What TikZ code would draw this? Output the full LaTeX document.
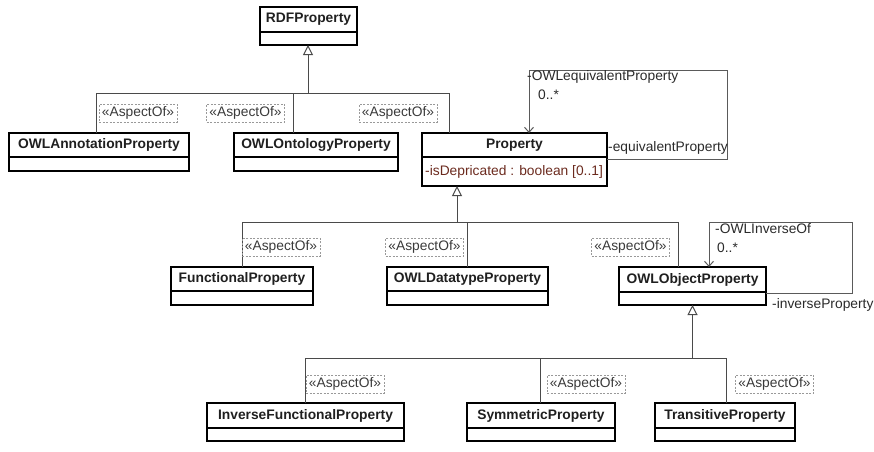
\documentclass[tikz,border=0pt]{standalone}
\usepackage{fontspec}
\setmainfont{Liberation Sans}
\usetikzlibrary{arrows.meta}
\definecolor{linec}{HTML}{4A4A4A}
\definecolor{assocc}{HTML}{5A5A5A}
\definecolor{attrc}{HTML}{6B2A1E}
\definecolor{aspc}{HTML}{3A3A3A}
\definecolor{labc}{HTML}{2A2A2A}
\tikzset{
  namebox/.style={draw=black, line width=1.4pt, inner sep=0pt, outer sep=0pt, anchor=north west,
    font=\fontsize{13.8}{16}\selectfont\bfseries, text=black!88},
  compbox/.style={draw=black, line width=1.4pt, inner sep=0pt, outer sep=0pt, anchor=north west},
  conn/.style={draw=linec, line width=1pt},
  gen/.style={conn, -{Triangle[open, length=10pt, width=10pt, line width=1pt]}},
  assoc/.style={draw=assocc, line width=1pt, -{Straight Barb[length=5pt, width=9pt, line width=1pt]}},
  aspect/.style={draw=gray!80, dashed, dash pattern=on 2pt off 1.5pt, line width=0.7pt,
    minimum width=78, minimum height=18, inner sep=1pt,
    font=\fontsize{13.8}{16}\selectfont, text=aspc},
  lab/.style={inner sep=0pt, anchor=west, font=\fontsize{13.8}{16}\selectfont, text=labc}
}
\begin{document}
\begin{tikzpicture}[x=1pt, y=-1pt]
\useasboundingbox (0,0) rectangle (874,451);
% ---- classes ----
\node[namebox, minimum width=97, minimum height=25] (rdf) at (260,7) {RDFProperty};
\node[compbox, minimum width=97, minimum height=13] (rdf-c) at (rdf.south west) {};

\node[namebox, minimum width=180, minimum height=24] (owla) at (9,133) {OWLAnnotationProperty};
\node[compbox, minimum width=180, minimum height=14] (owla-c) at (owla.south west) {};

\node[namebox, minimum width=164, minimum height=24] (owlo) at (234,133) {OWLOntologyProperty};
\node[compbox, minimum width=164, minimum height=14] (owlo-c) at (owlo.south west) {};

\node[namebox, minimum width=185, minimum height=24] (prop) at (422,133) {Property};
\node[compbox, minimum width=185, minimum height=29] (prop-a) at (prop.south west) {};
\node[lab, text=attrc] (prop-at) at ([xshift=3pt]prop-a.west) {-isDepricated : boolean [0..1]};

\node[namebox, minimum width=142, minimum height=24] (func) at (171,267) {FunctionalProperty};
\node[compbox, minimum width=142, minimum height=14] (func-c) at (func.south west) {};

\node[namebox, minimum width=161, minimum height=24] (dtp) at (387,267) {OWLDatatypeProperty};
\node[compbox, minimum width=161, minimum height=14] (dtp-c) at (dtp.south west) {};

\node[namebox, minimum width=147, minimum height=25] (obj) at (619,267) {OWLObjectProperty};
\node[compbox, minimum width=147, minimum height=13] (obj-c) at (obj.south west) {};

\node[namebox, minimum width=197, minimum height=25] (inv) at (207,403) {InverseFunctionalProperty};
\node[compbox, minimum width=197, minimum height=13] (inv-c) at (inv.south west) {};

\node[namebox, minimum width=148, minimum height=25] (sym) at (467,403) {SymmetricProperty};
\node[compbox, minimum width=148, minimum height=13] (sym-c) at (sym.south west) {};

\node[namebox, minimum width=140, minimum height=25] (trans) at (655,403) {TransitiveProperty};
\node[compbox, minimum width=140, minimum height=13] (trans-c) at (trans.south west) {};

% ---- top generalization ----
\coordinate (t0) at (308,93);
\coordinate (ta) at (96,93);
\coordinate (tb) at (293,93);
\coordinate (tc) at (449,93);
\draw[gen] (t0) -- (t0 |- rdf-c.south);
\draw[conn] (ta |- owla.north) -- (ta) -- (tc) -- (tc |- prop.north);
\draw[conn] (tb) -- (tb |- owlo.north);
\node[aspect] (as1) at (138,113) {«AspectOf»};
\node[aspect] (as2) at (245.5,113) {«AspectOf»};
\node[aspect] (as3) at (398,113) {«AspectOf»};

% ---- middle generalization ----
\coordinate (m0) at (457,222);
\coordinate (ma) at (242,222);
\coordinate (mb) at (467,222);
\coordinate (mc) at (678,222);
\draw[gen] (m0) -- (m0 |- prop-a.south);
\draw[conn] (ma |- func.north) -- (ma) -- (mc) -- (mc |- obj.north);
\draw[conn] (mb) -- (mb |- dtp.north);
\node[aspect] (as4) at (281,247) {«AspectOf»};
\node[aspect] (as5) at (424.5,247) {«AspectOf»};
\node[aspect] (as6) at (630.5,247) {«AspectOf»};

% ---- bottom generalization ----
\coordinate (b0) at (692.5,358);
\coordinate (ba) at (305,358);
\coordinate (bb) at (540,358);
\coordinate (bc) at (726,358);
\draw[gen] (b0) -- (b0 |- obj-c.south);
\draw[conn] (ba |- inv.north) -- (ba) -- (bc) -- (bc |- trans.north);
\draw[conn] (bb) -- (bb |- sym.north);
\node[aspect] (as7) at (345,384) {«AspectOf»};
\node[aspect] (as8) at (586,384) {«AspectOf»};
\node[aspect] (as9) at (774.5,384) {«AspectOf»};

% ---- self association on Property ----
\coordinate (p1) at (727,159);
\coordinate (p2) at (529,70);
\draw[assoc] (p1 -| prop.east) -- (p1) |- (p2) -- (p2 |- prop.north);
\node[lab] (pl1) at (527,77) {-OWLequivalentProperty};
\node[lab] (pl2) at (538,95) {0..*};
\node[lab] (pl3) at (608,148) {-equivalentProperty};

% ---- self association on OWLObjectProperty ----
\coordinate (q1) at (852,293);
\coordinate (q2) at (709,222);
\draw[assoc] (q1 -| obj.east) -- (q1) |- (q2) -- (q2 |- obj.north);
\node[lab] (ql1) at (715,229) {-OWLInverseOf};
\node[lab] (ql2) at (717,248) {0..*};
\node[lab] (ql3) at (772,305) {-inverseProperty};
\end{tikzpicture}
\end{document}
